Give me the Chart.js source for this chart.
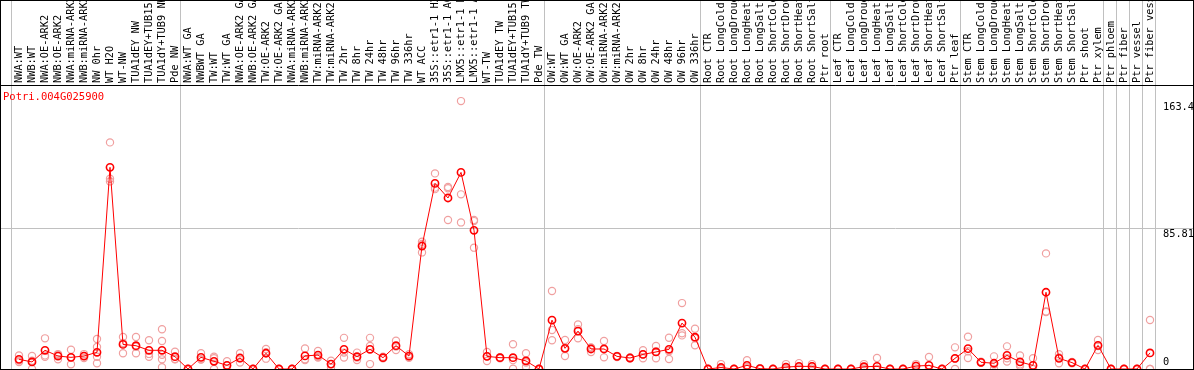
<!DOCTYPE html>
<html>
<head>
<meta charset="utf-8">
<title>Potri.004G025900</title>
<script src="https://cdn.jsdelivr.net/npm/chart.js@4/dist/chart.umd.min.js"></script>
<style>
    html, body { margin: 0; padding: 0; background: #ffffff; }
    #exprChart { display: block; }
</style>
</head>
<body>
<canvas id="exprChart" width="1194" height="370"></canvas>
<script>
const geneName = 'Potri.004G025900';

const categories = [
    'NWA:WT', 'NWB:WT', 'NWA:OE-ARK2', 'NWB:OE-ARK2', 'NWA:miRNA-ARK2', 'NWB:miRNA-ARK2',
    'NW 0hr', 'WT H2O', 'WT-NW', 'TUA1dEY NW', 'TUA1dEY+TUB15 NW', 'TUA1dY+TUB9 NW', 'Pde NW',
    'NWA:WT GA', 'NWBWT GA', 'TW:WT', 'TW:WT GA', 'NWA:OE-ARK2 GA', 'NWB:OE-ARK2 GA',
    'TW:OE-ARK2', 'TW:OE-ARK2 GA', 'NWA:miRNA-ARK2', 'NWB:miRNA-ARK2', 'TW:miRNA-ARK2',
    'TW:miRNA-ARK2', 'TW 2hr', 'TW 8hr', 'TW 24hr', 'TW 48hr', 'TW 96hr', 'TW 336hr',
    'WT ACC', '35S::etr1-1 H2O', '35S::etr1-1 ACC', 'LMX5::etr1-1 H2O', 'LMX5::etr1-1 ACC',
    'WT-TW', 'TUA1dEY TW', 'TUA1dEY+TUB15 TW', 'TUA1dY+TUB9 TW', 'Pde TW',
    'OW:WT', 'OW:WT GA', 'OW:OE-ARK2', 'OW:OE-ARK2 GA', 'OW:miRNA-ARK2', 'OW:miRNA-ARK2',
    'OW 2hr', 'OW 8hr', 'OW 24hr', 'OW 48hr', 'OW 96hr', 'OW 336hr',
    'Root CTR', 'Root LongCold', 'Root LongDrought', 'Root LongHeat', 'Root LongSalt',
    'Root ShortCold', 'Root ShortDrought', 'Root ShortHeat', 'Root ShortSalt', 'Ptr root',
    'Leaf CTR', 'Leaf LongCold', 'Leaf LongDrought', 'Leaf LongHeat', 'Leaf LongSalt',
    'Leaf ShortCold', 'Leaf ShortDrought', 'Leaf ShortHeat', 'Leaf ShortSalt', 'Ptr leaf',
    'Stem CTR', 'Stem LongCold', 'Stem LongDrought', 'Stem LongHeat', 'Stem LongSalt',
    'Stem ShortCold', 'Stem ShortDrought', 'Stem ShortHeat', 'Stem ShortSalt', 'Ptr shoot',
    'Ptr xylem', 'Ptr phloem', 'Ptr fiber', 'Ptr vessel', 'Ptr fiber vessel'
];

// last sample index of each group (-1 = before the first one)
const groupEnds = [-1, 12, 40, 52, 62, 72, 83, 84, 85, 86, 87];

const meanValues = [
    5.9, 4.3, 11.4, 7.9, 7.1, 7.9, 10.2, 123.0, 15.0, 14.2, 11.4, 11.4, 7.5,
    0, 7.1, 4.7, 2.2, 6.7, 0, 9.6, 0, 0, 8, 8.5, 3, 12, 7.5, 12, 6.9, 14.2, 7.9,
    75.0, 113.2, 104.3, 119.9, 84.6, 7.7, 6.9, 6.9, 4.9, 0,
    29.8, 12.6, 23.1, 12.2, 12.2, 7.7, 6.7, 8.9, 10.4, 12.0, 28.0, 19.4,
    0, 0.9, 0, 2.2, 0.2, 0, 1.2, 1.6, 1.6, 0,
    0, 0, 1.4, 1.6, 0, 0, 1.8, 2.2, 0, 6.5,
    12.4, 4.1, 3.5, 8.3, 4.3, 2.2, 46.8, 6.5, 3.9, 0, 14.4,
    0, 0, 0, 9.8
];

const replicateValues = [
    [8.3, 5.1, 4.3], [7.9, 0, 5], [18.7, 8.3, 7.5], [9.1, 5.9, 8.7], [11.8, 2.9, 7],
    [9.1, 6.7, 7.9], [18.3, 13.4, 7.5, 3.5], [138.2, 116.0, 114.4], [19.5, 9.6, 15.9],
    [19.5, 9.6, 13.5], [17.5, 7.5, 9.2], [24.2, 17.1, 8.7, 5.9, 1.1], [10.5, 5.9, 6.1],
    [0, 0, 0], [9.6, 5.9, 5.8], [7.5, 0, 6.6], [4.7, 2.2, 0], [9.6, 3.9, 6.6], [0, 0, 0],
    [12.2, 6.3, 10.3], [0, 0, 0], [0, 0, 0], [12.5, 6, 5.5], [11, 7.5, 7], [5, 3, 1],
    [19, 10, 7], [10, 7, 5.5], [19, 14, 3], [7.5, 6.5, 6.8], [17.3, 11.6, 13.7], [9, 6.9, 7.8],
    [77.6, 71.1, 76.3], [119.3, 110.6, 109.7], [111, 110.2, 90.9], [163.4, 106.5, 89.4],
    [90.9, 74.0, 90.2], [10.4, 4.9, 7.8], [6.9, 7.2, 6.6], [15.1, 0.2, 5.4], [9.6, 3.9, 1.2],
    [0, 0, 0], [47.6, 23.8, 17.5], [17.7, 7.9, 12.2], [27.2, 18.7, 24.3], [13, 10.4, 13.2],
    [17.1, 7.1, 12.4], [7.3, 8, 7.8], [6.7, 6.5, 7], [11.4, 6.5, 8.8], [14.0, 6.5, 10.7],
    [19.1, 6.1, 10.8], [40.2, 21.8, 20.5], [24.6, 14.5, 18.8], [0, 0, 0], [3, 0, 0],
    [0, 0, 0], [5.3, 1, 0.3], [0.5, 0, 0], [0, 0, 0], [3, 0.6, 0], [3.6, 1, 0.2],
    [3, 1.5, 0.3], [0, 0, 0], [0, 0, 0], [0, 0, 0], [3, 1, 0.2], [6.7, 0, 0], [0, 0, 0],
    [0, 0, 0], [3, 2, 0.4], [7.3, 0, 0], [0, 0, 0], [13.2, 0, 6.3], [19.7, 6.7, 10.8],
    [4, 4.5, 3.8], [7.7, 0, 2.8], [13.8, 4.5, 6.6], [8.3, 1.8, 2.8], [6.6, 0, 0],
    [70.5, 34.8, 35.1], [9, 7, 3.5], [3.9, 4.3, 3.5], [0, 0, 0], [17.7, 11.6, 14],
    [0, 0, 0], [0, 0, 0], [0, 0, 0], [29.9, 0, 0]
];

const yTickValues = [0, 85.81, 163.4];

document.addEventListener('DOMContentLoaded', function() {
    const monoFont = '"DejaVu Sans Mono", "Liberation Mono", monospace';
    const colStep = 13;      // px per sample
    const firstX = 19;       // px of the first sample
    const width = 1194;
    const xMin = -firstX / colStep;
    const xMax = xMin + width / colStep;
    const yMax = Math.max(...yTickValues) * 1.06;

    const meanPoints = meanValues.map((v, i) => ({ x: i, y: v }));
    const replicatePoints = replicateValues.flatMap((reps, i) => reps.map(v => ({ x: i, y: v })));

    // no extra room for rotated labels sticking out on the sides
    const fitTop = h => axis => {
        axis.height = h;
        axis.paddingLeft = 0;
        axis.paddingRight = 0;
    };

    // outer frame + gene name
    const framePlugin = {
        id: 'frame',
        afterDraw(chart) {
            const ctx = chart.ctx;
            const area = chart.chartArea;
            ctx.save();
            ctx.strokeStyle = '#000000';
            ctx.lineWidth = 1;
            ctx.strokeRect(0.5, 0.5, chart.width - 1, chart.height - 1);
            ctx.beginPath();
            ctx.moveTo(0, Math.round(area.top) + 0.5);
            ctx.lineTo(chart.width, Math.round(area.top) + 0.5);
            ctx.stroke();
            ctx.fillStyle = '#ff0000';
            ctx.font = '10.5px ' + monoFont;
            ctx.textBaseline = 'middle';
            ctx.fillText(geneName, 3, area.top + 12);
            ctx.restore();
        }
    };

    const ctx = document.getElementById('exprChart').getContext('2d');
    new Chart(ctx, {
        type: 'line',
        data: {
            datasets: [{
                label: 'mean',
                data: meanPoints,
                xAxisID: 'x',
                yAxisID: 'y',
                order: 0,
                borderColor: '#ff0000',
                borderWidth: 1,
                tension: 0,
                pointRadius: 3.6,
                pointBorderWidth: 1.6,
                pointBorderColor: '#ff0000',
                pointBackgroundColor: 'rgba(0,0,0,0)',
                clip: false
            }, {
                label: 'replicates',
                data: replicatePoints,
                xAxisID: 'x',
                yAxisID: 'y',
                order: 1,
                showLine: false,
                pointRadius: 3.6,
                pointBorderWidth: 1.2,
                pointBorderColor: '#f0a0a0',
                pointBackgroundColor: 'rgba(0,0,0,0)',
                clip: false
            }]
        },
        options: {
            responsive: false,
            animation: false,
            devicePixelRatio: 1,
            layout: { autoPadding: false, padding: { left: 0, right: 0, top: 0, bottom: 1 } },
            plugins: {
                legend: { display: false },
                tooltip: { enabled: false }
            },
            scales: {
                x: {
                    type: 'linear',
                    position: 'top',
                    weight: 1,
                    min: xMin,
                    max: xMax,
                    afterBuildTicks: axis => {
                        axis.ticks = categories.map((c, i) => ({ value: i }));
                    },
                    afterFit: fitTop(85),
                    grid: { display: false, drawTicks: false },
                    border: { display: false },
                    ticks: {
                        autoSkip: false,
                        minRotation: 90,
                        maxRotation: 90,
                        padding: 2,
                        labelOffset: 12.4,
                        color: '#000000',
                        font: { family: monoFont, size: 10.3 },
                        callback: value => categories[value]
                    }
                },
                groups: {
                    type: 'linear',
                    position: 'top',
                    weight: 0,
                    min: xMin,
                    max: xMax,
                    afterBuildTicks: axis => {
                        axis.ticks = groupEnds.map(e => ({ value: e + 0.42 }));
                    },
                    afterFit: fitTop(0),
                    grid: {
                        color: '#c0c0c0',
                        lineWidth: 1,
                        drawTicks: true,
                        tickLength: 85
                    },
                    border: { display: false },
                    ticks: { display: false }
                },
                y: {
                    type: 'linear',
                    position: 'right',
                    min: 0,
                    max: yMax,
                    afterBuildTicks: axis => {
                        axis.ticks = yTickValues.map(v => ({ value: v }));
                    },
                    afterFit: axis => {
                        axis.width = 0;
                        axis.paddingTop = 0;
                        axis.paddingBottom = 0;
                    },
                    grid: {
                        drawTicks: false,
                        color: c => (c.tick && c.tick.value === 85.81) ? '#c0c0c0' : 'rgba(0,0,0,0)'
                    },
                    border: { display: false },
                    ticks: {
                        mirror: true,
                        crossAlign: 'far',
                        padding: 0,
                        color: '#000000',
                        font: { family: monoFont, size: 10.3 },
                        callback: value => value === 0 ? ['0', ''] : ['', String(value)]
                    }
                }
            }
        },
        plugins: [framePlugin]
    });
});
</script>
</body>
</html>
